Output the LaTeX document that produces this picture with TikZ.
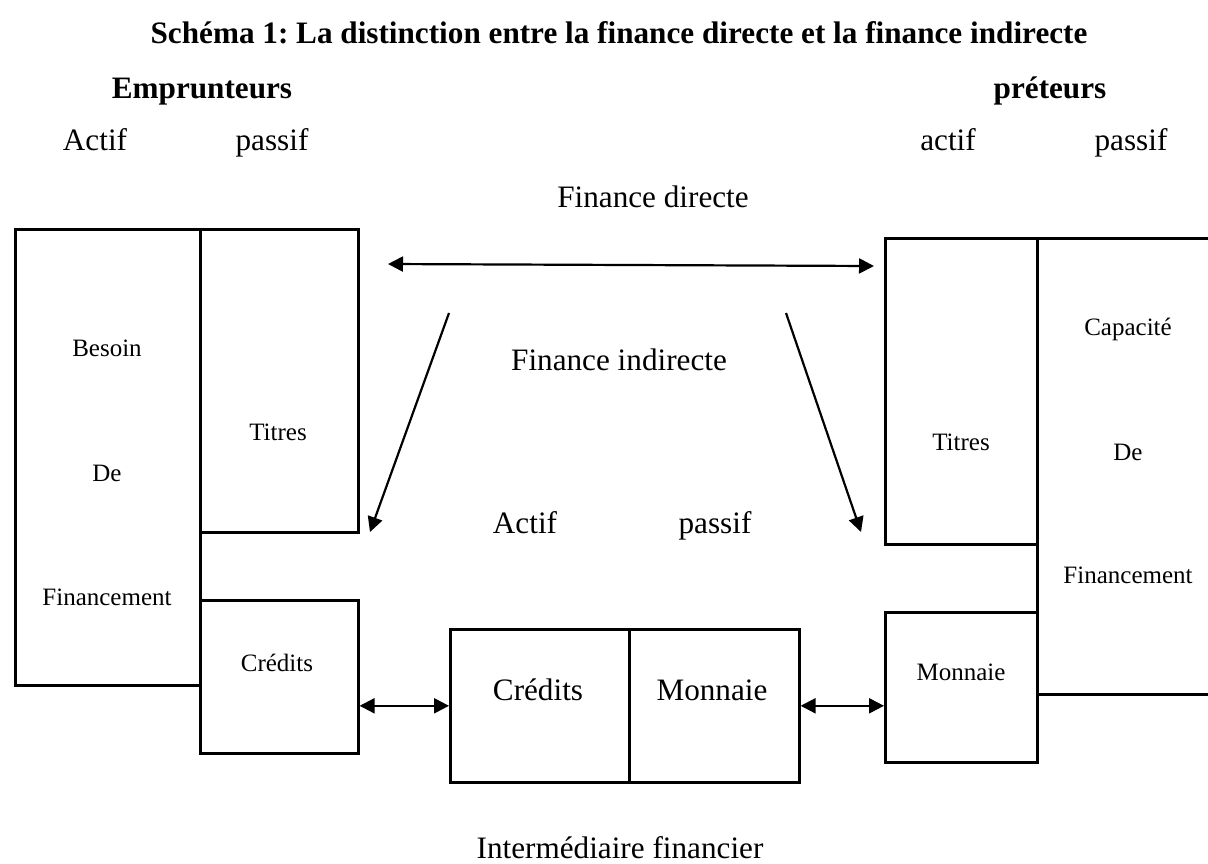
\documentclass[tikz,border=0pt]{standalone}
\usepackage{fontspec}
\setmainfont{Liberation Serif}
\usepackage{tikz}
\usetikzlibrary{arrows.meta}
\frenchspacing
\tikzset{
  compte/.style={
    draw=black,
    line width=1.3pt,
    inner sep=0pt,
    anchor=north west
  },
  texte/.style={
    font=\fontsize{15.6}{18}\selectfont,
    inner sep=0pt,
    text height=10.6pt,
    text depth=0pt
  },
  titre/.style={
    texte,
    font=\fontsize{15.6}{18}\selectfont\bfseries
  },
  petit/.style={
    font=\fontsize{12.5}{14}\selectfont,
    inner sep=0pt,
    text height=8.5pt,
    text depth=0pt
  },
  fleche/.style={
    -{Triangle[length=7.5pt,width=7.5pt]},
    line width=1.1pt
  },
  liaison/.style={
    {Triangle[length=7.5pt,width=7.5pt]}-{Triangle[length=7.5pt,width=7.5pt]},
    line width=1.1pt
  }
}

\begin{document}
\begin{tikzpicture}[x=0.5pt, y=-0.5pt]
  \clip (0,0) rectangle (1208,863);

  \node[titre] (titre) at (619,33) {Schéma 1: La distinction entre la finance directe et la finance indirecte};
  \node[titre] (emprunteurs) at (202,88) {Emprunteurs};
  \node[titre] (preteurs) at (1050,88) {préteurs};
  \node[texte] (actifE) at (95,140) {Actif};
  \node[texte] (passifE) at (272,140) {passif};
  \node[texte] (actifP) at (948,140) {actif};
  \node[texte] (passifP) at (1131,140) {passif};
  \node[texte] (fd) at (653,197) {Finance directe};
  \node[texte] (fi) at (619,360) {Finance indirecte};
  \node[texte] (actifI) at (525,523) {Actif};
  \node[texte] (passifI) at (715,523) {passif};
  \node[texte] (inter) at (620,848) {Intermédiaire financier};

  % emprunteurs
  \node[compte, minimum width=92.5pt, minimum height=228pt] (besoin) at (14,228) {};
  \node[compte, minimum width=79pt, minimum height=151.5pt] (titresE) at (199,228) {};
  \node[compte, minimum width=79pt, minimum height=76.5pt] (creditsE) at (199,599) {};
  \node[petit] at (107,348) {Besoin};
  \node[petit] at (107,473) {De};
  \node[petit] at (107,597) {Financement};
  \node[petit] at (278,432) {Titres};
  \node[petit] at (277,663) {Crédits};

  % intermediaire
  \node[compte, minimum width=89.5pt, minimum height=76.5pt] (creditsI) at (449,628) {};
  \node[compte, minimum width=85pt, minimum height=76.5pt] (monnaieI) at (628,628) {};
  \node[texte] at (538,690) {Crédits};
  \node[texte] at (712,690) {Monnaie};

  % preteurs
  \node[compte, minimum width=76pt, minimum height=153pt] (titresP) at (884,237) {};
  \node[compte, minimum width=76pt, minimum height=75pt] (monnaieP) at (884,611) {};
  \node[compte, minimum width=92pt, minimum height=228pt] (capacite) at (1036,237) {};
  \node[petit] at (1128,327) {Capacité};
  \node[petit] at (1128,452) {De};
  \node[petit] at (1128,575) {Financement};
  \node[petit] at (961,442) {Titres};
  \node[petit] at (961,672) {Monnaie};

  \coordinate (fdG) at (388,264);
  \coordinate (fdD) at (874,266);
  \coordinate (fiG) at (449,313);
  \coordinate (fiGb) at (370,532);
  \coordinate (fiD) at (786,313);
  \coordinate (fiDb) at (861,532);

  \draw[liaison] (fdG) -- (fdD);
  \draw[fleche] (fiG) -- (fiGb);
  \draw[fleche] (fiD) -- (fiDb);
  \draw[liaison] (creditsI.west -| creditsE.east) -- (creditsI.west);
  \draw[liaison] (monnaieI.east) -- (monnaieI.east -| monnaieP.west);
\end{tikzpicture}
\end{document}
